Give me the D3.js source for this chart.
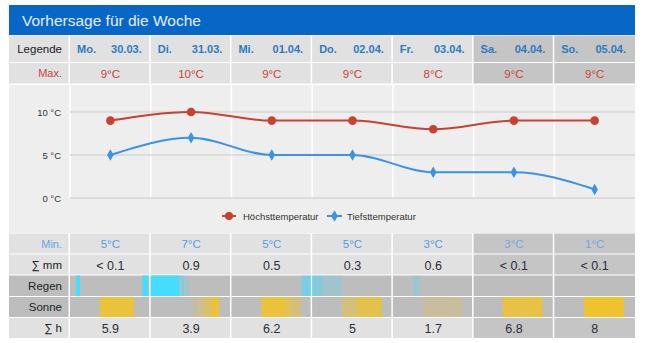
<!DOCTYPE html>
<html><head><meta charset="utf-8">
<script src="https://cdn.jsdelivr.net/npm/d3@7/dist/d3.min.js"></script>
<style>
html,body{margin:0;padding:0;background:#fff;}
svg{display:block;font-family:"Liberation Sans",Arial,sans-serif;}
</style></head>
<body>
<svg id="c" width="650" height="343"></svg>
<script>
// ---- data ----
const title = "Vorhersage für die Woche";
const dayNames = ["Mo.","Di.","Mi.","Do.","Fr.","Sa.","So."];
const dates = ["30.03.","31.03.","01.04.","02.04.","03.04.","04.04.","05.04."];
const weekend = [false,false,false,false,false,true,true];
const maxTemp = [9,10,9,9,8,9,9];
const minTemp = [5,7,5,5,3,3,1];
const rainMm = ["< 0.1","0.9","0.5","0.3","0.6","< 0.1","< 0.1"];
const sunHours = ["5.9","3.9","6.2","5","1.7","6.8","8"];
const yTicks = [0,5,10];
const seriesNames = ["Höchsttemperatur","Tiefsttemperatur"];
// hourly intensities (0..1) per day: [day, hourStart, hourEnd, intensity]
const rainBlocks = [
  [0,1.8,3,1],[0,21.8,23.6,1],
  [1,0,8.5,1],[1,8.5,10,0.45],[1,10,11.5,0.2],
  [2,21,21.6,0.45],[2,21.6,24,0.6],
  [3,0,2.8,0.5],[3,2.8,9,0.25],
  [4,6,8,0.3]
];
const sunBlocks = [
  [0,9,19.3,0.85],
  [1,12.5,14,0.15],[1,14,16,0.3],[1,16,18,0.55],[1,18,19,0.8],[1,19,20.5,1],
  [2,9,16.5,0.85],[2,16.5,18.5,0.6],[2,18.5,21,0.4],
  [3,9,13.5,0.45],[3,13.5,21,0.75],
  [4,9.2,21,0.22],
  [5,8.7,20.8,0.8],
  [6,9,21,0.95]
];

// ---- layout ----
const svg = d3.select("#c");
const L = 9, X0 = 70, X1 = 635;
const x = d3.scaleBand().domain(d3.range(7)).range([X0, X1]);
const y = d3.scaleLinear().domain([0,10]).range([198,112]);
const hx = d3.scaleLinear().domain([0,24]).range([0, x.bandwidth()-1]);

// header
svg.append("rect").attr("x",L).attr("y",5).attr("width",X1-L).attr("height",30).attr("fill","#0867c6");
svg.append("text").attr("x",22).attr("y",26).attr("fill","#e4edf7").attr("font-size",15.5).text(title);

const gap = 1.5;
function row(y0, h, opts){
  svg.append("rect").attr("x",L).attr("y",y0).attr("width",X0-L-gap).attr("height",h).attr("fill",opts.labelBg||opts.bg);
  svg.append("text").attr("x",X0-8).attr("y",y0+h/2+4).attr("text-anchor","end")
    .attr("font-size",opts.labelSize||11).attr("fill",opts.labelColor||"#222").text(opts.label);
  svg.selectAll(null).data(d3.range(7)).enter().append("rect")
    .attr("x",i=>x(i)).attr("y",y0).attr("width",i=>x.bandwidth()-(i===6?0:gap)).attr("height",h)
    .attr("fill",i=>opts.weekendBg && weekend[i]?opts.weekendBg:opts.bg);
}

// Legende row
row(35.5, 26.5, {label:"Legende", bg:"#e1e1e1", weekendBg:"#c5c5c5", labelColor:"#1a1a1a", labelSize:11.5});
const hdr = svg.selectAll(null).data(d3.range(7)).enter();
hdr.append("text").attr("x",i=>x(i)+7).attr("y",53).attr("font-size",11).attr("font-weight","bold")
  .attr("fill","#2a7cc2").text(i=>dayNames[i]);
hdr.append("text").attr("x",i=>x(i)+x.bandwidth()-9).attr("y",53).attr("text-anchor","end").attr("font-size",11).attr("font-weight","bold")
  .attr("fill","#2a7cc2").text(i=>dates[i]);

// Max row
row(63, 20.5, {label:"Max.", bg:"#e1e1e1", weekendBg:"#c5c5c5", labelColor:"#c8463a"});
svg.selectAll(null).data(maxTemp).enter().append("text")
  .attr("x",(d,i)=>x(i)+x.bandwidth()/2).attr("y",78).attr("text-anchor","middle").attr("font-size",11.5)
  .attr("fill","#c8463a").text(d=>d+"°C");

// chart area
svg.append("rect").attr("x",L).attr("y",85).attr("width",X1-L).attr("height",148).attr("fill","#eeeeee");
svg.selectAll(null).data(d3.range(7)).enter().append("line")
  .attr("x1",i=>x(i)).attr("x2",i=>x(i)).attr("y1",85).attr("y2",y(0))
  .attr("stroke","#ffffff").attr("stroke-width",1.5);
svg.selectAll(null).data(yTicks).enter().append("line")
  .attr("x1",X0).attr("x2",X1).attr("y1",d=>y(d)).attr("y2",d=>y(d))
  .attr("stroke","#c9c9c9").attr("stroke-width",1);
svg.selectAll(null).data(yTicks).enter().append("text")
  .attr("x",61).attr("y",d=>y(d)+3.5).attr("text-anchor","end").attr("font-size",9.5)
  .attr("fill","#2d3340").text(d=>d+" °C");

const cx = i=>x(i)+x.bandwidth()/2;
const line = d3.line().x((d,i)=>cx(i)).y(d=>y(d)).curve(d3.curveMonotoneX);
const red = "#c9412f", blue = "#3b93e6";
svg.append("path").attr("d",line(maxTemp)).attr("fill","none").attr("stroke",red).attr("stroke-width",2);
svg.append("path").attr("d",line(minTemp)).attr("fill","none").attr("stroke",blue).attr("stroke-width",2);
svg.selectAll(null).data(maxTemp).enter().append("circle")
  .attr("cx",(d,i)=>cx(i)).attr("cy",d=>y(d)).attr("r",4.3).attr("fill",red);
const diamond = d3.symbol().type(d3.symbolDiamond).size(38);
svg.selectAll(null).data(minTemp).enter().append("path")
  .attr("transform",(d,i)=>`translate(${cx(i)},${y(d)})`).attr("d",diamond).attr("fill",blue);

// legend
const lg = svg.append("g");
lg.append("line").attr("x1",222).attr("x2",236).attr("y1",216).attr("y2",216).attr("stroke",red).attr("stroke-width",2);
lg.append("circle").attr("cx",229).attr("cy",216).attr("r",4).attr("fill",red);
lg.append("text").attr("x",243).attr("y",219.5).attr("font-size",9.5).attr("fill","#333").text(seriesNames[0]);
lg.append("line").attr("x1",327).attr("x2",342).attr("y1",216).attr("y2",216).attr("stroke",blue).attr("stroke-width",2);
lg.append("path").attr("transform","translate(334.5,216)").attr("d",diamond).attr("fill",blue);
lg.append("text").attr("x",347).attr("y",219.5).attr("font-size",9.5).attr("fill","#333").text(seriesNames[1]);

// Min row
row(233.5, 20, {label:"Min.", bg:"#e1e1e1", weekendBg:"#c5c5c5", labelColor:"#5fa7e6"});
svg.selectAll(null).data(minTemp).enter().append("text")
  .attr("x",(d,i)=>cx(i)).attr("y",248).attr("text-anchor","middle").attr("font-size",11.5)
  .attr("fill",(d,i)=>weekend[i]?"#6fa9e0":"#4f9fe6").text(d=>d+"°C");

// ∑ mm row
row(254.5, 20, {label:"∑ mm", bg:"#e1e1e1", weekendBg:"#c5c5c5", labelColor:"#222", labelSize:11.5});
svg.selectAll(null).data(rainMm).enter().append("text")
  .attr("x",(d,i)=>cx(i)).attr("y",269.5).attr("text-anchor","middle").attr("font-size",12.5)
  .attr("fill","#2b2f38").text(d=>d);

// Regen row
row(275.5, 20.5, {label:"Regen", bg:"#bdbdbd", labelColor:"#222", labelSize:11.5});
svg.selectAll(null).data(rainBlocks).enter().append("rect")
  .attr("x",d=>x(d[0])+hx(d[1])).attr("width",d=>hx(d[2])-hx(d[1])).attr("y",275.5).attr("height",20.5)
  .attr("fill","#46dcfb").attr("fill-opacity",d=>d[3]);

// Sonne row
row(297, 20, {label:"Sonne", bg:"#bdbdbd", labelColor:"#222", labelSize:11.5});
svg.selectAll(null).data(sunBlocks).enter().append("rect")
  .attr("x",d=>x(d[0])+hx(d[1])).attr("width",d=>hx(d[2])-hx(d[1])).attr("y",297).attr("height",20)
  .attr("fill","#f2c326").attr("fill-opacity",d=>d[3]);

// ∑ h row
row(318, 20, {label:"∑ h", bg:"#e1e1e1", weekendBg:"#c5c5c5", labelColor:"#222", labelSize:11.5});
svg.selectAll(null).data(sunHours).enter().append("text")
  .attr("x",(d,i)=>cx(i)).attr("y",333).attr("text-anchor","middle").attr("font-size",12.5)
  .attr("fill","#2b2f38").text(d=>d);
</script>
</body></html>
